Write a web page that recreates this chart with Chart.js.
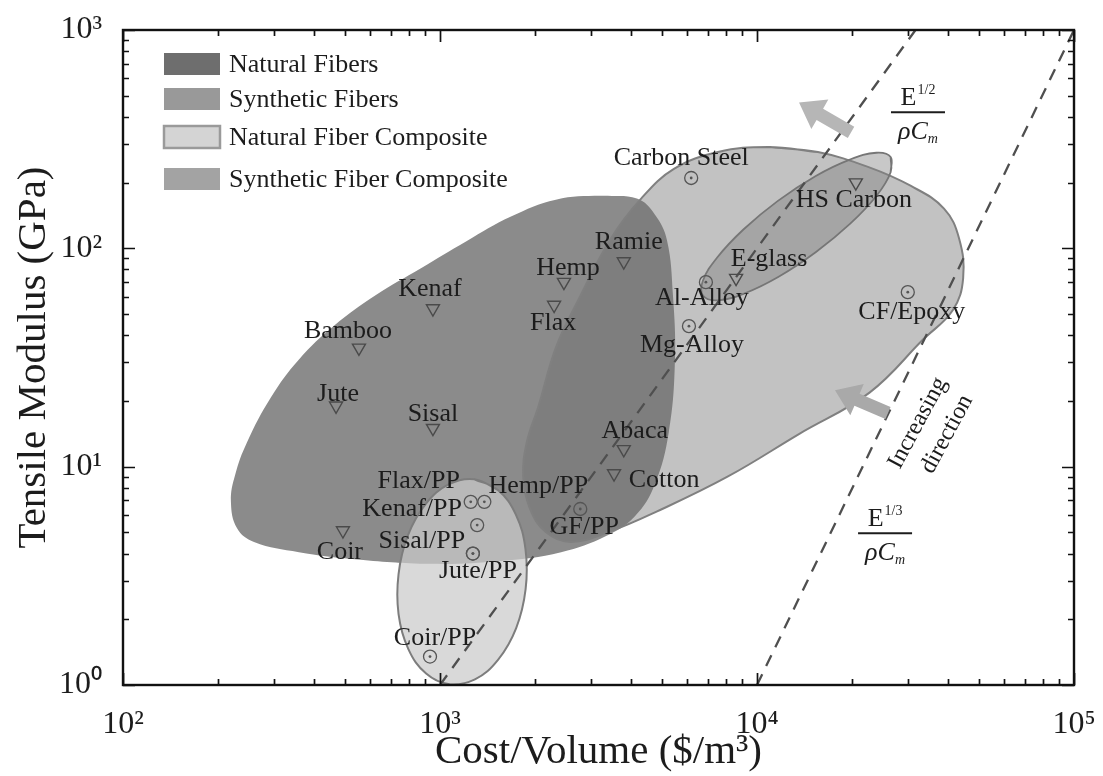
<!DOCTYPE html>
<html>
<head>
<meta charset="utf-8">
<script src="https://cdn.jsdelivr.net/npm/chart.js@4.4.1/dist/chart.umd.min.js"></script>
<style>
  html, body { margin: 0; padding: 0; background: #ffffff; }
  canvas { display: block; }
</style>
</head>
<body>
<canvas id="chart" width="1103" height="776"></canvas>
<script>
// Material selection map: tensile modulus against cost per unit volume (log-log)

const xTickValues = [100, 1000, 10000, 100000];
const xTickLabels = ['10²', '10³', '10⁴', '10⁵'];
const yTickValues = [1, 10, 100, 1000];
const yTickLabels = ['10⁰', '10¹', '10²', '10³'];

// Fibers, drawn as inverted triangles
const fiberNames = ['Kenaf', 'Bamboo', 'Jute', 'Sisal', 'Hemp', 'Flax', 'Ramie', 'Abaca', 'Cotton', 'Coir', 'HS Carbon', 'E-glass'];
const fiberCost = [950, 555, 470, 950, 2460, 2290, 3800, 3800, 3540, 494, 20500, 8590];
const fiberModulus = [53, 35, 19, 15, 70, 55, 87, 12, 9.3, 5.1, 200, 73];

// Metals and composites, drawn as dotted circles
const materialNames = ['Carbon Steel', 'Al-Alloy', 'Mg-Alloy', 'CF/Epoxy', 'GF/PP', 'Flax/PP', 'Hemp/PP', 'Kenaf/PP', 'Sisal/PP', 'Jute/PP', 'Coir/PP'];
const materialCost = [6200, 6900, 6100, 29900, 2770, 1250, 1380, 1310, 1270, 1270, 930];
const materialModulus = [210, 70, 44, 63, 6.4, 6.9, 6.9, 5.4, 4.0, 4.0, 1.35];

// Property envelopes (outline vertices, cost / modulus)
const naturalFiberRegionCost = [3220, 4180, 4760, 5200, 5430, 5510, 5270, 4760, 4120, 3340, 2410, 1557, 937, 528, 359, 259, 229, 219, 226, 246, 293, 359, 463, 628, 871, 1208, 1675, 2320];
const naturalFiberRegionModulus = [174, 169, 143, 109, 61.1, 30.6, 14.4, 8.28, 5.93, 4.81, 4.06, 3.70, 3.59, 3.78, 4.06, 4.52, 5.22, 6.93, 9.20, 12.9, 20.8, 31.0, 44.2, 61.1, 81.1, 107.6, 139.8, 167];

const syntheticCompositeRegionCost = [10840, 15560, 22390, 30600, 38900, 43400, 44700, 41500, 33400, 22700, 13560, 8100, 4840, 3460, 2590, 2160, 1920, 1830, 1880, 2040, 2320, 2720, 3460, 4310, 5470, 7530];
const syntheticCompositeRegionModulus = [291, 276, 236, 193, 152, 111, 73.1, 52.2, 38.2, 21.9, 14.1, 9.02, 6.24, 5.07, 4.52, 5.01, 6.44, 9.02, 13.0, 18.7, 35.1, 57.4, 111, 169, 231, 276];

const syntheticFiberRegionCost = [26400, 26400, 23900, 19720, 15350, 11700, 9120, 7520, 6760, 6750, 7490, 9060, 11640, 15280, 19630, 23800];
const syntheticFiberRegionModulus = [262, 223, 175, 130, 96.2, 74.1, 62.1, 57.8, 60.6, 71.0, 90.8, 122, 165, 214, 255, 274];

const naturalCompositeRegionCost = [1284, 1523, 1735, 1861, 1862, 1739, 1526, 1289, 1072, 904, 794, 740, 740, 792, 902, 1068];
const naturalCompositeRegionModulus = [8.76, 7.82, 6.03, 4.18, 2.74, 1.823, 1.307, 1.061, 1.007, 1.128, 1.464, 2.11, 3.22, 4.84, 6.75, 8.31];

// Performance-index guide lines: E^(1/2)/(rho*Cm) and E^(1/3)/(rho*Cm)
const halfPowerCost = [1000, 31623];
const halfPowerModulus = [1, 1000];
const thirdPowerCost = [10000, 100000];
const thirdPowerModulus = [1, 1000];

const legendNames = ['Natural Fibers', 'Synthetic Fibers', 'Natural Fiber Composite', 'Synthetic Fiber Composite'];

// ---- styling / layout ----
const SERIF = '"Liberation Serif", "Times New Roman", Times, serif';
const INK = '#1c1c1c';
const legendSwatches = ['#6e6e6e', '#999999', '#d4d4d4', '#a3a3a3'];

const fiberLabelOffsets = [[-3, -19], [-11, -17], [2, -12], [0, -14], [4, -14], [-1, 18], [5, -19], [11, -18], [50, 7], [-3, 22], [-2, 18], [33, -19]];
const materialLabelOffsets = [[-10, -20], [-4, 16], [3, 19], [4, 20], [4, 18], [-52, -21], [54, -16], [-65, -16], [-51, -12], [5, 18], [5, -18]];

const noteAnchors = {
  half: { x: 32200, y: 420, exp: '1/2' },
  third: { x: 25350, y: 4.95, exp: '1/3' },
  increasing: { x: 35400, y: 14.7 }
};
const arrowAnchors = [
  { from: [19800, 340], to: [13570, 466], color: '#b6b6b6' },
  { from: [25900, 17.6], to: [17620, 22.4], color: '#a9a9a9' }
];

function toPoints(costs, moduli) {
  return costs.map((c, i) => ({ x: c, y: moduli[i] }));
}
function closedOutline(costs, moduli) {
  const pts = toPoints(costs, moduli);
  return pts.concat([pts[0], pts[1]]);
}
function regionDataset(label, costs, moduli, fillColor, lineColor, lineWidth, order) {
  return {
    label,
    data: closedOutline(costs, moduli),
    showLine: true,
    fill: 'shape',
    backgroundColor: fillColor,
    borderColor: lineColor,
    borderWidth: lineWidth,
    pointRadius: 0,
    pointHoverRadius: 0,
    tension: 0.4,
    order
  };
}
function guideDataset(costs, moduli) {
  return {
    data: toPoints(costs, moduli),
    showLine: true,
    fill: false,
    borderColor: '#4f4f4f',
    borderWidth: 2.3,
    borderDash: [12, 9],
    pointRadius: 0,
    pointHoverRadius: 0,
    tension: 0,
    order: 5
  };
}

const datasets = [
  regionDataset('Natural Fibers', naturalFiberRegionCost, naturalFiberRegionModulus, 'rgb(139,139,139)', 'rgba(0,0,0,0)', 0, 10),
  regionDataset('Synthetic Fiber Composite', syntheticCompositeRegionCost, syntheticCompositeRegionModulus, 'rgba(109,109,109,0.42)', 'rgb(128,128,128)', 2, 9),
  regionDataset('Synthetic Fibers', syntheticFiberRegionCost, syntheticFiberRegionModulus, 'rgba(130,130,130,0.44)', 'rgb(118,118,118)', 1.8, 8),
  regionDataset('Natural Fiber Composite', naturalCompositeRegionCost, naturalCompositeRegionModulus, 'rgba(202,202,202,0.72)', 'rgb(125,125,125)', 2, 7),
  guideDataset(halfPowerCost, halfPowerModulus),
  guideDataset(thirdPowerCost, thirdPowerModulus),
  {
    label: 'fibers',
    data: toPoints(fiberCost, fiberModulus),
    showLine: false,
    pointStyle: 'triangle',
    pointRotation: 180,
    pointRadius: 7.5,
    pointHoverRadius: 7.5,
    pointBorderColor: '#4a4a4a',
    pointBorderWidth: 1.4,
    pointBackgroundColor: 'rgba(0,0,0,0)',
    order: 2
  },
  {
    label: 'materials',
    data: toPoints(materialCost, materialModulus),
    showLine: false,
    pointStyle: 'circle',
    pointRadius: 6.5,
    pointHoverRadius: 6.5,
    pointBorderColor: '#555555',
    pointBorderWidth: 1.3,
    pointBackgroundColor: 'rgba(0,0,0,0)',
    order: 2
  },
  {
    label: 'material centres',
    data: toPoints(materialCost, materialModulus),
    showLine: false,
    pointStyle: 'circle',
    pointRadius: 1.4,
    pointHoverRadius: 1.4,
    pointBorderWidth: 0,
    pointBackgroundColor: '#555555',
    order: 1
  }
];
const FIBER_SET = 6;
const MATERIAL_SET = 7;

// Box frame with inward major/minor ticks on all four sides
const frameTicks = {
  id: 'frameTicks',
  afterDatasetsDraw(chart) {
    const { ctx, chartArea: a, scales: { x, y } } = chart;
    ctx.save();
    ctx.strokeStyle = '#111111';
    ctx.lineWidth = 1.7;
    ctx.beginPath();
    for (let e = 2; e <= 5; e++) {
      for (let m = 1; m <= 9; m++) {
        const v = m * Math.pow(10, e);
        if (v < x.min || v > x.max) continue;
        const px = Math.round(x.getPixelForValue(v)) + 0.5;
        const len = m === 1 ? 12 : 6;
        ctx.moveTo(px, a.bottom); ctx.lineTo(px, a.bottom - len);
        ctx.moveTo(px, a.top); ctx.lineTo(px, a.top + len);
      }
    }
    for (let e = 0; e <= 3; e++) {
      for (let m = 1; m <= 9; m++) {
        const v = m * Math.pow(10, e);
        if (v < y.min || v > y.max) continue;
        const py = Math.round(y.getPixelForValue(v)) + 0.5;
        const len = m === 1 ? 12 : 6;
        ctx.moveTo(a.left, py); ctx.lineTo(a.left + len, py);
        ctx.moveTo(a.right, py); ctx.lineTo(a.right - len, py);
      }
    }
    ctx.stroke();
    ctx.lineWidth = 2.4;
    ctx.strokeRect(a.left, a.top, a.right - a.left, a.bottom - a.top);
    ctx.restore();
  }
};

function drawArrow(ctx, x0, y0, x1, y1, color) {
  const dx = x1 - x0, dy = y1 - y0, len = Math.hypot(dx, dy);
  const ux = dx / len, uy = dy / len, nx = -uy, ny = ux;
  const headLen = 24, headHalf = 17, shaftHalf = 6.5;
  const bx = x1 - ux * headLen, by = y1 - uy * headLen;
  ctx.beginPath();
  ctx.moveTo(x0 + nx * shaftHalf, y0 + ny * shaftHalf);
  ctx.lineTo(bx + nx * shaftHalf, by + ny * shaftHalf);
  ctx.lineTo(bx + nx * headHalf, by + ny * headHalf);
  ctx.lineTo(x1, y1);
  ctx.lineTo(bx - nx * headHalf, by - ny * headHalf);
  ctx.lineTo(bx - nx * shaftHalf, by - ny * shaftHalf);
  ctx.lineTo(x0 - nx * shaftHalf, y0 - ny * shaftHalf);
  ctx.closePath();
  ctx.fillStyle = color;
  ctx.fill();
}

function drawFraction(ctx, cx, cy, exp) {
  ctx.save();
  ctx.fillStyle = INK;
  ctx.strokeStyle = INK;
  ctx.textAlign = 'left';
  ctx.textBaseline = 'alphabetic';
  ctx.font = `26px ${SERIF}`;
  const wE = ctx.measureText('E').width;
  ctx.font = `14px ${SERIF}`;
  const wX = ctx.measureText(exp).width;
  let sx = cx - (wE + wX + 1) / 2;
  ctx.font = `26px ${SERIF}`;
  ctx.fillText('E', sx, cy - 7);
  ctx.font = `14px ${SERIF}`;
  ctx.fillText(exp, sx + wE + 1, cy - 18);
  ctx.lineWidth = 2;
  ctx.beginPath();
  ctx.moveTo(cx - 27, cy);
  ctx.lineTo(cx + 27, cy);
  ctx.stroke();
  ctx.font = `italic 26px ${SERIF}`;
  const wR = ctx.measureText('ρC').width;
  ctx.font = `italic 14px ${SERIF}`;
  const wM = ctx.measureText('m').width;
  sx = cx - (wR + wM) / 2;
  ctx.font = `italic 26px ${SERIF}`;
  ctx.fillText('ρC', sx, cy + 27);
  ctx.font = `italic 14px ${SERIF}`;
  ctx.fillText('m', sx + wR, cy + 31);
  ctx.restore();
}

// Arrows, index formulas, direction note, point labels and legend
const annotations = {
  id: 'annotations',
  afterDatasetsDraw(chart) {
    const { ctx, chartArea: a, scales: { x, y } } = chart;
    ctx.save();

    arrowAnchors.forEach(ar => {
      drawArrow(ctx,
        x.getPixelForValue(ar.from[0]), y.getPixelForValue(ar.from[1]),
        x.getPixelForValue(ar.to[0]), y.getPixelForValue(ar.to[1]), ar.color);
    });

    drawFraction(ctx, x.getPixelForValue(noteAnchors.half.x), y.getPixelForValue(noteAnchors.half.y), noteAnchors.half.exp);
    drawFraction(ctx, x.getPixelForValue(noteAnchors.third.x), y.getPixelForValue(noteAnchors.third.y), noteAnchors.third.exp);

    // rotated "Increasing direction" note
    ctx.save();
    ctx.translate(x.getPixelForValue(noteAnchors.increasing.x), y.getPixelForValue(noteAnchors.increasing.y));
    ctx.rotate(-61.7 * Math.PI / 180);
    ctx.fillStyle = INK;
    ctx.font = `24px ${SERIF}`;
    ctx.textAlign = 'center';
    ctx.textBaseline = 'middle';
    ctx.fillText('Increasing', 0, -15);
    ctx.fillText('direction', 4, 16);
    ctx.restore();

    // point labels
    ctx.font = `26px ${SERIF}`;
    ctx.fillStyle = INK;
    ctx.textAlign = 'center';
    ctx.textBaseline = 'middle';
    [[FIBER_SET, fiberNames, fiberLabelOffsets], [MATERIAL_SET, materialNames, materialLabelOffsets]].forEach(([di, names, offs]) => {
      chart.getDatasetMeta(di).data.forEach((pt, i) => {
        ctx.fillText(names[i], pt.x + offs[i][0], pt.y + offs[i][1]);
      });
    });

    // legend
    const rowCentres = [34, 69, 107, 149];
    legendNames.forEach((name, i) => {
      const cy = a.top + rowCentres[i];
      const sx = a.left + 41;
      ctx.fillStyle = legendSwatches[i];
      ctx.fillRect(sx, cy - 11, 56, 22);
      if (i === 2) {
        ctx.strokeStyle = '#9a9a9a';
        ctx.lineWidth = 2.5;
        ctx.strokeRect(sx, cy - 11, 56, 22);
      }
      ctx.fillStyle = INK;
      ctx.textAlign = 'left';
      ctx.textBaseline = 'middle';
      ctx.font = `26px ${SERIF}`;
      ctx.fillText(name, a.left + 106, cy + 1);
    });

    ctx.restore();
  }
};

new Chart(document.getElementById('chart'), {
  type: 'scatter',
  data: { datasets },
  options: {
    responsive: false,
    animation: false,
    events: [],
    layout: { padding: { top: 30, right: 29, bottom: 0, left: 0 } },
    plugins: {
      legend: { display: false },
      tooltip: { enabled: false }
    },
    scales: {
      x: {
        type: 'logarithmic',
        position: 'bottom',
        min: 100,
        max: 100000,
        afterBuildTicks: s => { s.ticks = xTickValues.map(v => ({ value: v })); },
        afterFit: s => { s.height = 91; s.paddingLeft = 0; s.paddingRight = 0; },
        grid: { display: false, drawTicks: false },
        border: { display: false },
        ticks: {
          autoSkip: false,
          maxRotation: 0,
          padding: 20,
          color: INK,
          font: { family: SERIF, size: 32 },
          callback: v => xTickLabels[xTickValues.indexOf(v)]
        },
        title: {
          display: true,
          text: 'Cost/Volume ($/m³)',
          color: INK,
          font: { family: SERIF, size: 41, lineHeight: 1 },
          padding: { top: 0, bottom: 3 }
        }
      },
      y: {
        type: 'logarithmic',
        position: 'left',
        min: 1,
        max: 1000,
        afterBuildTicks: s => { s.ticks = yTickValues.map(v => ({ value: v })); },
        afterFit: s => { s.width = 123; s.paddingTop = 0; s.paddingBottom = 0; },
        grid: { display: false, drawTicks: false },
        border: { display: false },
        ticks: {
          autoSkip: false,
          padding: 21,
          color: INK,
          font: { family: SERIF, size: 32 },
          callback: v => yTickLabels[yTickValues.indexOf(v)]
        },
        title: {
          display: true,
          text: 'Tensile Modulus (GPa)',
          color: INK,
          font: { family: SERIF, size: 41, lineHeight: 1 },
          padding: { top: 14, bottom: 0 }
        }
      }
    }
  },
  plugins: [frameTicks, annotations]
});
</script>
</body>
</html>
